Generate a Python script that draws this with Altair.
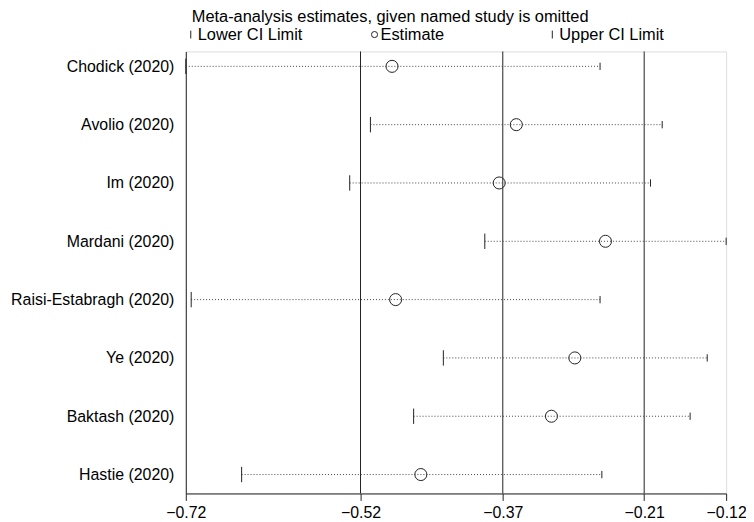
import json
import altair as alt
import pandas as pd

# ---- data ----
studies = ["Chodick (2020)", "Avolio (2020)", "Im (2020)", "Mardani (2020)",
           "Raisi-Estabragh (2020)", "Ye (2020)", "Baktash (2020)", "Hastie (2020)"]
lower = [-0.720, -0.515, -0.538, -0.388, -0.714, -0.434, -0.467, -0.658]
estimate = [-0.491, -0.353, -0.372, -0.254, -0.487, -0.288, -0.314, -0.459]
upper = [-0.260, -0.191, -0.204, -0.120, -0.260, -0.141, -0.160, -0.258]
overall = [-0.526, -0.368, -0.211]
tick_values = [-0.72, -0.526, -0.368, -0.211, -0.12]
tick_labels = ["\u22120.72", "\u22120.52", "\u22120.37", "\u22120.21", "\u22120.12"]
title_text = "Meta-analysis estimates, given named study is omitted"
legend_labels = ["Lower CI Limit", "Estimate", "Upper CI Limit"]

FONT = "Liberation Sans, Arial, Helvetica, sans-serif"
INK = "#222222"
BAR = "M0,-1L0,1"

idx = list(range(1, len(studies) + 1))
ci_df = pd.DataFrame({"study": studies, "idx": idx, "lower": lower, "upper": upper})
kinds = ["Lower CI Limit", "Estimate", "Upper CI Limit"]
pts_df = pd.DataFrame(
    [{"study": s, "idx": i, "kind": k, "value": v}
     for s, i, lo, es, up in zip(studies, idx, lower, estimate, upper)
     for k, v in zip(kinds, [lo, es, up])]
)
overall_df = pd.DataFrame({"value": overall})

x_scale = alt.Scale(domain=[-0.72, -0.12], nice=False, zero=False)
y_scale = alt.Scale(domain=[0.7445, 8.324], nice=False, zero=False, reverse=True)

x_label_expr = f"{json.dumps(tick_labels)}[indexof({json.dumps(tick_values)}, datum.value)]"
y_label_expr = f"{json.dumps(studies)}[datum.value - 1]"

x_axis = alt.Axis(values=tick_values, labelExpr=x_label_expr, tickSize=7, grid=False,
                  title=None, labelFontSize=16, labelPadding=4, labelFont=FONT,
                  labelColor="#000000", domainColor=INK, tickColor=INK,
                  labelOverlap=False, labelFlush=False)
y_axis = alt.Axis(values=idx, labelExpr=y_label_expr, ticks=False, grid=False,
                  title=None, labelFontSize=16, labelPadding=12, labelFont=FONT,
                  labelColor="#000000", domainColor=INK, labelOverlap=False)

ref_lines = alt.Chart(overall_df).mark_rule(color=INK, strokeWidth=1).encode(
    x=alt.X("value:Q", scale=x_scale, axis=x_axis)
)

ci_lines = alt.Chart(ci_df).mark_rule(color="#444444", strokeWidth=1, strokeDash=[1, 2]).encode(
    x=alt.X("lower:Q", scale=x_scale, axis=x_axis),
    x2="upper:Q",
    y=alt.Y("idx:Q", scale=y_scale, axis=y_axis),
)

markers = alt.Chart(pts_df).mark_point(filled=False, color=INK, strokeWidth=1, opacity=1).encode(
    x=alt.X("value:Q", scale=x_scale, axis=x_axis),
    y=alt.Y("idx:Q", scale=y_scale, axis=y_axis),
    shape=alt.Shape("kind:N", scale=alt.Scale(domain=kinds, range=[BAR, "circle", BAR]), legend=None),
    size=alt.Size("kind:N", scale=alt.Scale(domain=kinds, range=[240, 54, 240]), legend=None),
)

# title and legend key (layout positions in plot pixels)
title_layer = alt.Chart(pd.DataFrame({"t": [title_text]})).mark_text(
    align="left", baseline="middle", font=FONT, fontSize=16.5, color="#000000"
).encode(x=alt.value(6), y=alt.value(-35), text="t:N")

legend_layers = []
sym_x = [5, 190, 369]
txt_x = [12, 196, 376]
legend_shapes = [BAR, "circle", BAR]
legend_sizes = [64, 38, 64]
for lab, sx, tx, shp, sz in zip(legend_labels, sym_x, txt_x, legend_shapes, legend_sizes):
    d = pd.DataFrame({"label": [lab]})
    legend_layers.append(
        alt.Chart(d).mark_point(filled=False, color=INK, strokeWidth=1, opacity=1).encode(
            x=alt.value(sx), y=alt.value(-17), shape=alt.value(shp), size=alt.value(sz))
    )
    legend_layers.append(
        alt.Chart(d).mark_text(align="left", baseline="middle", font=FONT, fontSize=16.5,
                               color="#000000").encode(
            x=alt.value(tx), y=alt.value(-17), text="label:N")
    )

chart = alt.layer(ref_lines, ci_lines, markers, title_layer, *legend_layers).properties(
    width=544, height=445,
    autosize=alt.AutoSizeParams(type="none"),
    padding={"left": 179, "top": 42, "right": 20, "bottom": 26},
).configure_view(stroke=None).configure(background="white")

chart.save("out.html", embed_options={"renderer": "svg", "actions": False})
